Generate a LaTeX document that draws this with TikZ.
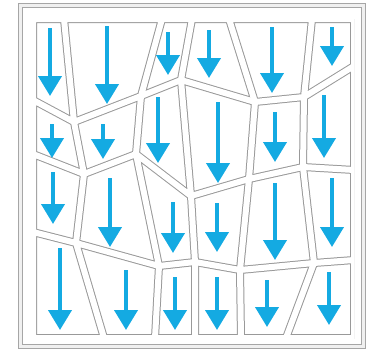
\documentclass[tikz,border=0pt]{standalone}
\usepackage{tikz,xcolor}
\usetikzlibrary{arrows.meta}

\definecolor{azulseta}{RGB}{20,170,226}

\begin{document}
\begin{tikzpicture}[x=1pt,y=-1pt,
    seta/.style={azulseta, line width=4pt, -{Triangle[width=23pt,length=20pt]}},
    malha/.style={draw=gray!80, line width=1pt, double=white, double distance=6pt,
      line cap=round, line join=round},
    moldura/.style={draw=gray!70, line width=1pt}]
  \useasboundingbox (0,0) rectangle (375,351);

  % Moldura
  \fill[gray!12, even odd rule] (18.5,3.5) rectangle (365.5,348.5) (22.5,7.5) rectangle (361.5,344.5);
  \draw[moldura] (18.5,3.5) rectangle (365.5,348.5);
  \draw[moldura] (22.5,7.5) rectangle (361.5,344.5);

  % Blocos (linhas horizontais e verticais da malha)
  \begin{scope}
    \clip (33,19) rectangle (354,338);
    \draw[malha] (33,19) rectangle (354,338)
      (33,100) -- (74,122) -- (141,96) -- (181,80) -- (255,102) -- (304,97) -- (354,66)
      (33,154) -- (84,174) -- (136,154) -- (191,196) -- (249,179) -- (303,167) -- (354,170)
      (33,232) -- (76,243) -- (159,266) -- (195,262) -- (240,270) -- (314,263) -- (354,260)
      (64,19) -- (74,122) -- (84,174) -- (76,243) -- (104,338)
      (162,19) -- (141,96) -- (136,154) -- (159,266) -- (155,338)
      (192,19) -- (181,80) -- (191,196) -- (195,262) -- (195,338)
      (229,19) -- (255,102) -- (249,179) -- (240,270) -- (241,338)
      (312,19) -- (304,97) -- (303,167) -- (314,263) -- (286,338);
  \end{scope}

  % Setas, linha 1
  \draw[seta] (50,28) -- (50,96);
  \draw[seta] (107,26) -- (107,104);
  \draw[seta] (168,32) -- (168,75);
  \draw[seta] (209,30) -- (209,78);
  \draw[seta] (272,27) -- (272,93);
  \draw[seta] (332,27) -- (332,66);

  % Setas, linha 2
  \draw[seta] (52,124) -- (52,158);
  \draw[seta] (103,124) -- (103,159);
  \draw[seta] (158,97) -- (158,163);
  \draw[seta] (218,102) -- (218,183);
  \draw[seta] (275,112) -- (275,162);
  \draw[seta] (324,95) -- (324,158);

  % Setas, linha 3
  \draw[seta] (53,172) -- (53,224);
  \draw[seta] (110,178) -- (110,247);
  \draw[seta] (173,202) -- (173,253);
  \draw[seta] (217,203) -- (217,252);
  \draw[seta] (275,183) -- (275,260);
  \draw[seta] (332,178) -- (332,247);

  % Setas, linha 4
  \draw[seta] (60,248) -- (60,330);
  \draw[seta] (126,270) -- (126,330);
  \draw[seta] (175,277) -- (175,330);
  \draw[seta] (217,277) -- (217,330);
  \draw[seta] (267,280) -- (267,327);
  \draw[seta] (329,272) -- (329,325);
\end{tikzpicture}
\end{document}
